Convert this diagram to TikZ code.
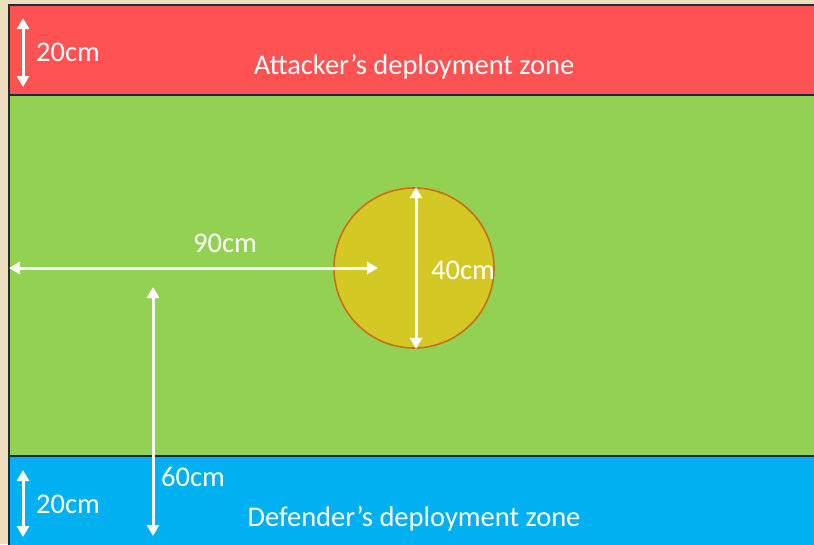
\documentclass[tikz,border=0pt]{standalone}
\usepackage{fontspec}
\setmainfont{Carlito}
\usepackage{xcolor}
\definecolor{tableBeige}{RGB}{238,222,190}
\definecolor{boardLine}{RGB}{28,44,56}
\definecolor{attackerRed}{RGB}{255,82,82}
\definecolor{fieldGreen}{RGB}{147,209,83}
\definecolor{defenderBlue}{RGB}{0,176,240}
\definecolor{objectiveYellow}{RGB}{212,200,36}
\definecolor{rimOrange}{RGB}{204,110,20}
\usetikzlibrary{positioning,arrows.meta}

\tikzset{
  zone/.style={draw=boardLine, line width=2pt, anchor=north west, inner sep=0pt, minimum width=814pt},
  measure/.style={white, line width=3pt, {Triangle[length=11pt,width=12pt]}-{Triangle[length=11pt,width=12pt]}},
  dimLabel/.style={text=white, inner sep=0pt, font=\fontsize{28.5}{32}\selectfont}
}

\begin{document}
\begin{tikzpicture}[x=1pt,y=-1pt]
\useasboundingbox (0,0) rectangle (814,544);
\fill[tableBeige] (0,0) rectangle (814,544);

\node[zone, fill=attackerRed, minimum height=90pt] (attackZone) at (8,4) {};
\node[zone, fill=fieldGreen, minimum height=361pt] (fieldZone) at (8,94) {};
\node[zone, fill=defenderBlue, minimum height=95pt] (defendZone) at (8,455) {};

\node[circle, fill=objectiveYellow, draw=rimOrange, line width=1.6pt, minimum size=160pt, inner sep=0pt] (objective) at (414,268) {};

\node[dimLabel] (attackName) at (414,67) {Attacker’s deployment zone};
\node[dimLabel] (defendName) at (414,519) {Defender’s deployment zone};

\coordinate (attackTop) at (23,18);
\coordinate (attackBottom) at (23,87);
\coordinate (defendTop) at (23,470);
\coordinate (defendBottom) at (23,537);
\coordinate (centreLeft) at (9,268);
\coordinate (centreRight) at (378,268);
\coordinate (sideTop) at (153,287);
\coordinate (sideBottom) at (153,536);

\draw[measure] (attackTop) -- (attackBottom);
\draw[measure] (defendTop) -- (defendBottom);
\draw[measure] (centreLeft) -- (centreRight);
\draw[measure] (sideTop) -- (sideBottom);
\draw[measure] ([xshift=2pt]objective.north) -- ([xshift=2pt]objective.south);

\node[dimLabel] (attackDepth) at (68,52) {20cm};
\node[dimLabel] (defendDepth) at (68,504) {20cm};
\node[dimLabel] (centreDist) at (225,243) {90cm};
\node[dimLabel] (objectiveSize) at (463,270) {40cm};
\node[dimLabel] (sideDist) at (193,477) {60cm};
\end{tikzpicture}
\end{document}
